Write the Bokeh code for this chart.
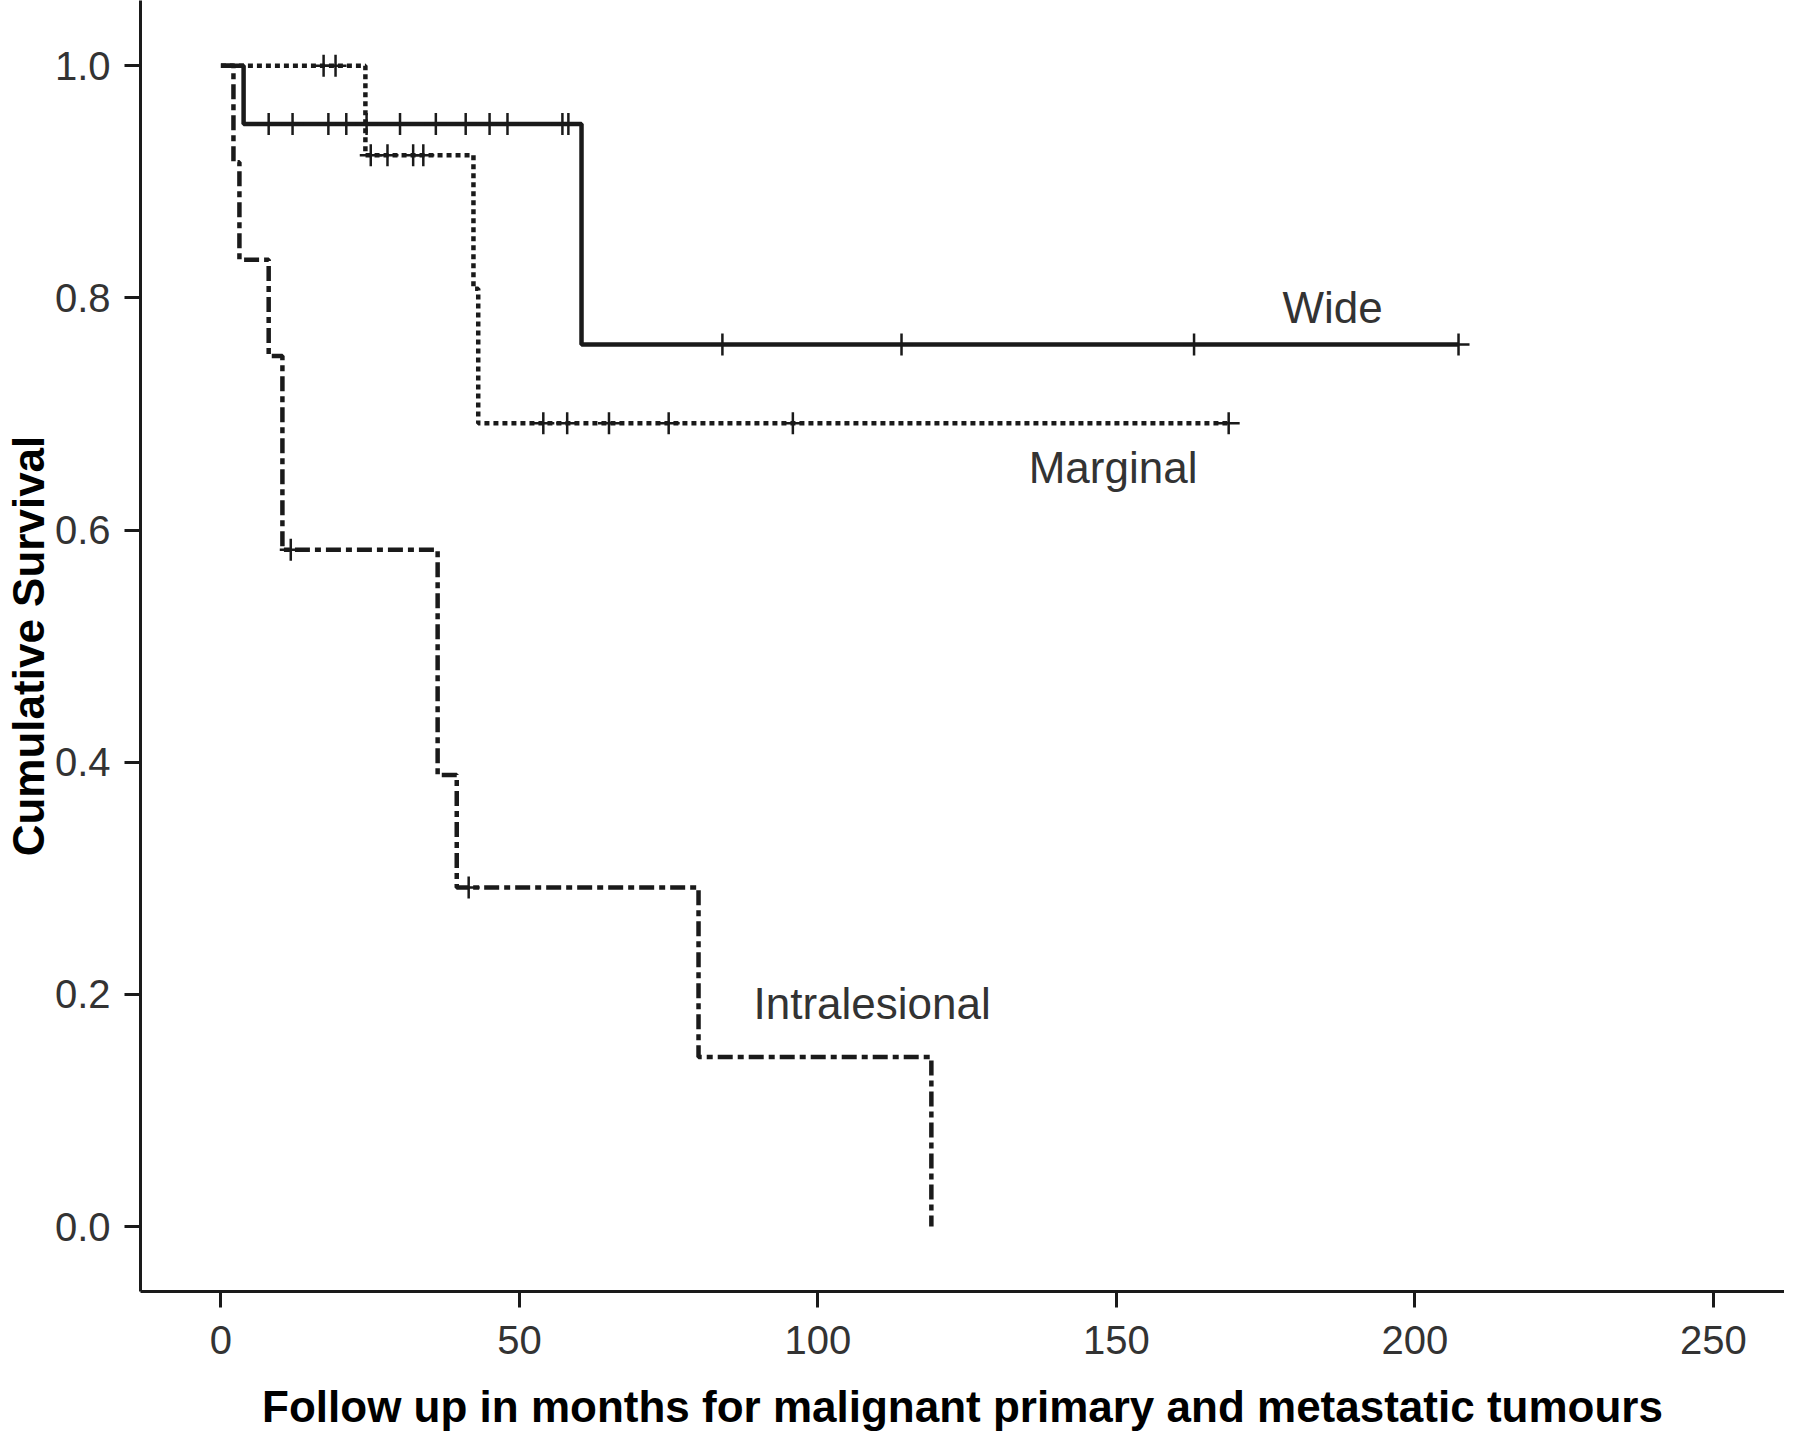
import numpy as np
from bokeh.plotting import figure
from bokeh.models import FixedTicker, PrintfTickFormatter, Range1d
from bokeh.core.properties import value
from bokeh.embed import file_html
from bokeh.resources import INLINE

# ---- data (months, cumulative survival) ----
wide_t = [0, 3.8, 60.4, 207.3]
wide_s = [1.0, 0.95, 0.76, 0.76]
wide_cens = [8, 12, 18, 21, 24.4, 30, 36, 41, 45, 48, 57.2, 58.2, 84, 114, 163, 207.3]

marg_t = [0, 24.2, 42.3, 43.1, 168.8]
marg_s = [1.0, 0.923, 0.808, 0.692, 0.692]
marg_cens = [17.2, 19.2, 25.1, 27.9, 32.2, 33.9, 54, 58, 65, 75, 95.8, 168.8]

intra_t = [0, 2.1, 3.1, 8.0, 10.3, 36.3, 39.5, 80.0, 119.0]
intra_s = [1.0, 0.917, 0.833, 0.75, 0.583, 0.389, 0.292, 0.146, 0.0]
intra_cens = [11.7, 41.5]

group_labels = ["Wide", "Marginal", "Intralesional"]
label_x = [177.8, 135.3, 89.2]
label_y = [0.792, 0.654, 0.192]

x_ticks = [0, 50, 100, 150, 200, 250]
y_ticks = [0.0, 0.2, 0.4, 0.6, 0.8, 1.0]


def surv_at(ts, ss, t):
    idx = np.searchsorted(np.array(ts), t, side="right") - 1
    return ss[max(idx, 0)]


FONT = "Liberation Sans"
INK = "#1a1a1a"

p = figure(width=1784, height=1434, output_backend="svg", toolbar_location=None,
           x_range=Range1d(-13.47, 261.9), y_range=Range1d(-0.056, 1.0563),
           min_border_left=140, min_border_top=0, min_border_right=0,
           min_border_bottom=143)
p.outline_line_color = None
p.grid.visible = False
p.background_fill_color = "white"
p.border_fill_color = "white"

lw = 4.5
p.step(wide_t, wide_s, mode="after", line_color=INK, line_width=lw)
p.step(marg_t, marg_s, mode="after", line_color=INK, line_width=lw, line_dash="5 4")
p.step(intra_t, intra_s, mode="after", line_color=INK, line_width=lw, line_dash="15 5 6 5")

for ts, ss, cens in [(wide_t, wide_s, wide_cens), (marg_t, marg_s, marg_cens),
                     (intra_t, intra_s, intra_cens)]:
    cy = [surv_at(ts, ss, c) for c in cens]
    p.scatter(cens, cy, marker="cross", size=22, line_color=INK, line_width=2.5)

p.text(label_x, label_y, text=group_labels, text_font=value(FONT),
       text_font_size="44px", text_color="#333333", text_baseline="alphabetic",
       text_align="left")

for ax in (p.xaxis[0], p.yaxis[0]):
    ax.axis_line_color = INK
    ax.axis_line_width = 3
    ax.major_tick_line_color = INK
    ax.major_tick_line_width = 3
    ax.major_tick_in = 0
    ax.major_tick_out = 16
    ax.minor_tick_line_color = None
    ax.major_label_text_font = FONT
    ax.major_label_text_font_size = "40px"
    ax.major_label_text_color = "#333333"
    ax.axis_label_text_font = FONT
    ax.axis_label_text_font_style = "bold"
    ax.axis_label_text_font_size = "44px"
    ax.axis_label_text_color = "#000000"
    ax.axis_label_text_line_height = 0.9

p.xaxis.ticker = FixedTicker(ticks=x_ticks)
p.yaxis.ticker = FixedTicker(ticks=y_ticks)
p.yaxis.formatter = PrintfTickFormatter(format="%.1f")
p.xaxis.axis_label = "Follow up in months for malignant primary and metastatic tumours"
p.yaxis.axis_label = "Cumulative Survival"
p.xaxis.major_label_standoff = 18
p.yaxis.major_label_standoff = 14
p.xaxis.axis_label_standoff = 25
p.yaxis.axis_label_standoff = -1

open("out.html", "w").write(file_html(p, INLINE))
